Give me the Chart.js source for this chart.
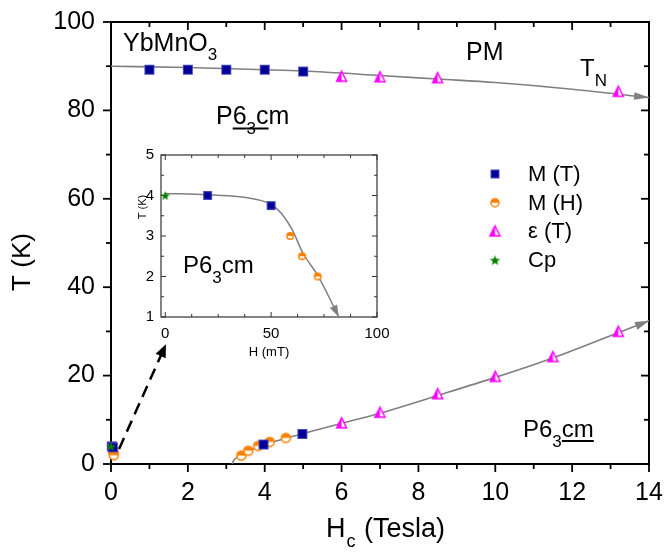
<!DOCTYPE html>
<html>
<head>
<meta charset="utf-8">
<script src="https://cdn.jsdelivr.net/npm/chart.js@4.4.0/dist/chart.umd.min.js"></script>
<style>
html, body { margin: 0; padding: 0; background: #fff; }
#wrap { position: relative; width: 665px; height: 555px; }
#main { position: absolute; left: 0; top: 0; }
#inset { position: absolute; left: 120px; top: 140px; }
</style>
</head>
<body>
<div id="wrap">
  <canvas id="main" width="665" height="555"></canvas>
  <canvas id="inset" width="270" height="230"></canvas>
</div>
<script>
// ---- main panel: T (K) vs Hc (Tesla) ----
var mT_x = [1, 2, 3, 4, 5, 0.02, 0.05, 3.97, 4.98];
var mT_y = [89.2, 89.2, 89.2, 89.2, 88.8, 4.0, 3.75, 4.4, 6.8];
var mH_x = [0.059, 0.065, 0.072, 3.39, 3.57, 3.83, 4.13, 4.55];
var mH_y = [3.0, 2.5, 2.0, 1.9, 3.0, 4.1, 5.0, 5.9];
var eps_x = [6, 7, 8.5, 13.2, 6, 7, 8.5, 10, 11.5, 13.2];
var eps_y = [87.6, 87.5, 87.3, 84.2, 9.2, 11.6, 15.8, 19.7, 24.2, 29.9];
var cp_x = [0];
var cp_y = [4.0];
// guide lines (TN line and low-T boundary)
var tn_x = [0, 2, 4, 5, 7, 8.5, 10, 12, 14];
var tn_y = [90, 89.7, 89.2, 88.9, 87.9, 87.1, 86.3, 84.8, 82.9];
var low_x = [3.15, 3.2, 3.3, 3.45, 3.7, 4.0, 4.5, 5, 6, 7, 8.5, 10, 11.5, 13, 14];
var low_y = [0, 0.9, 1.6, 2.4, 3.4, 4.4, 5.7, 6.9, 9.2, 11.5, 15.5, 19.6, 24.0, 29.0, 32.4];
var xTicks = [0, 2, 4, 6, 8, 10, 12, 14];
var yTicks = [0, 20, 40, 60, 80, 100];
var legendNames = ['M (T)', 'M (H)', '\u03b5 (T)', 'Cp'];

// ---- inset: T (K) vs H (mT) ----
var in_mT_x = [20, 50];
var in_mT_y = [4.0, 3.75];
var in_mH_x = [59, 64.6, 72];
var in_mH_y = [3.0, 2.5, 2.0];
var in_cp_x = [0];
var in_cp_y = [4.0];
var in_fit_x = [0, 20, 35, 45, 50, 55, 60, 65, 72, 82];
var in_fit_y = [4.05, 4.02, 3.97, 3.88, 3.78, 3.55, 3.15, 2.58, 2.03, 1.0];
var inXTicks = [0, 50, 100];
var inYTicks = [1, 2, 3, 4, 5];

var FONT = '"Liberation Sans", Arial, sans-serif';
var NAVY = '#000099', ORANGE = '#ff8000', MAGENTA = '#ff00ff', GREEN = '#008000', GREY = '#808080';

function pts(xs, ys) {
  return xs.map(function (x, i) { return { x: x, y: ys[i] }; });
}

function makeMarker(kind, size) {
  var pad = 2;
  var c = document.createElement('canvas');
  c.width = c.height = Math.ceil(size + 2 * pad);
  var g = c.getContext('2d');
  var m = c.width / 2, r = size / 2;
  if (kind === 'square') {
    g.fillStyle = NAVY;
    g.fillRect(m - r, m - r, size, size);
    g.strokeStyle = '#4a4ab8';
    g.lineWidth = 1;
    g.strokeRect(m - r + 0.5, m - r + 0.5, size - 1, size - 1);
  } else if (kind === 'half') {
    r -= 0.75;
    g.fillStyle = '#fff';
    g.beginPath(); g.arc(m, m, r, 0, Math.PI * 2); g.fill();
    g.fillStyle = ORANGE;
    g.beginPath(); g.arc(m, m, r, Math.PI, 0); g.closePath(); g.fill();
    g.strokeStyle = ORANGE; g.lineWidth = 1.5;
    g.beginPath(); g.arc(m, m, r, 0, Math.PI * 2); g.stroke();
  } else if (kind === 'tri') {
    var top = m - r, bot = m + r * 0.8, hw = r - 0.5;
    g.fillStyle = '#fff';
    g.beginPath(); g.moveTo(m, top); g.lineTo(m + hw, bot); g.lineTo(m - hw, bot); g.closePath(); g.fill();
    g.fillStyle = MAGENTA;
    g.beginPath(); g.moveTo(m, top); g.lineTo(m, bot); g.lineTo(m - hw, bot); g.closePath(); g.fill();
    g.strokeStyle = MAGENTA; g.lineWidth = 1.5; g.lineJoin = 'miter';
    g.beginPath(); g.moveTo(m, top); g.lineTo(m + hw, bot); g.lineTo(m - hw, bot); g.closePath(); g.stroke();
  } else if (kind === 'star') {
    g.fillStyle = GREEN;
    g.beginPath();
    for (var i = 0; i < 10; i++) {
      var rr = i % 2 === 0 ? r : r * 0.42;
      var a = -Math.PI / 2 + i * Math.PI / 5;
      var px = m + rr * Math.cos(a), py = m + 0.5 + rr * Math.sin(a);
      if (i === 0) g.moveTo(px, py); else g.lineTo(px, py);
    }
    g.closePath(); g.fill();
  }
  return c;
}

var mk = {
  sq: makeMarker('square', 10), half: makeMarker('half', 10.5),
  tri: makeMarker('tri', 11), star: makeMarker('star', 10)
};
var mkLeg = [makeMarker('square', 9), makeMarker('half', 9.5), makeMarker('tri', 11), makeMarker('star', 11)];
var mkIn = {
  sq: makeMarker('square', 8.5), half: makeMarker('half', 8), star: makeMarker('star', 10)
};

// text with sub-scripts and underlines
function drawRich(ctx, x, y, parts) {
  ctx.save();
  ctx.fillStyle = '#000';
  ctx.textBaseline = 'alphabetic';
  ctx.textAlign = 'left';
  parts.forEach(function (p) {
    ctx.font = p.size + 'px ' + FONT;
    var w = ctx.measureText(p.t).width;
    ctx.fillText(p.t, x, y + (p.dy || 0));
    if (p.u !== undefined) ctx.fillRect(x, y + p.u, w, 2);
    x += w + (p.gap || 0);
  });
  ctx.restore();
}

function vText(ctx, text, cx, cy, size) {
  ctx.save();
  ctx.translate(cx, cy);
  ctx.rotate(-Math.PI / 2);
  ctx.font = size + 'px ' + FONT;
  ctx.fillStyle = '#000';
  ctx.textAlign = 'center';
  ctx.textBaseline = 'middle';
  ctx.fillText(text, 0, 0);
  ctx.restore();
}

function arrowHead(ctx, tx, ty, fx, fy, len, hw, color) {
  var dx = tx - fx, dy = ty - fy, d = Math.sqrt(dx * dx + dy * dy) || 1;
  dx /= d; dy /= d;
  var bx = tx - dx * len, by = ty - dy * len;
  ctx.fillStyle = color;
  ctx.beginPath();
  ctx.moveTo(tx, ty);
  ctx.lineTo(bx - dy * hw, by + dx * hw);
  ctx.lineTo(bx + dy * hw, by - dx * hw);
  ctx.closePath();
  ctx.fill();
}

// frame + tick marks (inward / outward per side)
var framePlugin = {
  id: 'frame',
  beforeDatasetsDraw: function (chart, args, o) {
    var ctx = chart.ctx, a = chart.chartArea, xs = chart.scales.x, ys = chart.scales.y;
    ctx.save();
    ctx.strokeStyle = o.color;
    ctx.lineWidth = o.width;
    ctx.strokeRect(a.left, a.top, a.right - a.left, a.bottom - a.top);
    ctx.lineWidth = o.tickWidth;
    function seg(x1, y1, x2, y2) { ctx.beginPath(); ctx.moveTo(x1, y1); ctx.lineTo(x2, y2); ctx.stroke(); }
    function xt(v, len) {
      var p = xs.getPixelForValue(v);
      seg(p, a.bottom, p, a.bottom + (o.bottomOut ? len : -len));
      seg(p, a.top, p, a.top + len);
    }
    function yt(v, len) {
      var p = ys.getPixelForValue(v);
      seg(a.left, p, a.left + (o.leftOut ? -len : len), p);
      seg(a.right, p, a.right - len, p);
    }
    var k, v, isMaj;
    for (k = Math.ceil(xs.min / o.xMinor - 1e-9); k * o.xMinor <= xs.max + 1e-9; k++) {
      v = k * o.xMinor;
      isMaj = Math.abs(v / o.xMajor - Math.round(v / o.xMajor)) < 1e-6;
      xt(v, isMaj ? o.major : o.minor);
    }
    for (k = Math.ceil(ys.min / o.yMinor - 1e-9); k * o.yMinor <= ys.max + 1e-9; k++) {
      v = k * o.yMinor;
      isMaj = Math.abs(v / o.yMajor - Math.round(v / o.yMajor)) < 1e-6;
      yt(v, isMaj ? o.major : o.minor);
    }
    ctx.restore();
  }
};

// arrowheads at the ends of guide lines
var arrowPlugin = {
  id: 'arrows',
  afterDatasetsDraw: function (chart) {
    var ctx = chart.ctx;
    ctx.save();
    chart.data.datasets.forEach(function (ds, i) {
      if (!ds.arrow) return;
      var els = chart.getDatasetMeta(i).data, n = els.length;
      var last = els[n - 1], prev = els[n - 2];
      var fx = last.cp1x, fy = last.cp1y;
      if (fx === undefined || (Math.abs(fx - last.x) < 0.5 && Math.abs(fy - last.y) < 0.5)) { fx = prev.x; fy = prev.y; }
      arrowHead(ctx, last.x, last.y, fx, fy, ds.arrow[0], ds.arrow[1], GREY);
    });
    ctx.restore();
  }
};

var mainDecor = {
  id: 'mainDecor',
  afterDraw: function (chart) {
    var ctx = chart.ctx, xs = chart.scales.x, ys = chart.scales.y;
    // labels inside the plot
    drawRich(ctx, 123, 50.5, [{ t: 'YbMnO', size: 25 }, { t: '3', size: 17, dy: 9.5 }]);
    drawRich(ctx, 466, 60, [{ t: 'PM', size: 25 }]);
    drawRich(ctx, 580, 76, [{ t: 'T', size: 24 }, { t: 'N', size: 17, dy: 10 }]);
    drawRich(ctx, 216, 124, [{ t: 'P', size: 25 }, { t: '6', size: 25, u: 3.5 },
      { t: '3', size: 17, dy: 10, u: 3.5 }, { t: 'c', size: 25, u: 3.5 }, { t: 'm', size: 25 }]);
    drawRich(ctx, 523, 437, [{ t: 'P6', size: 24 }, { t: '3', size: 17, dy: 10 }, { t: 'cm', size: 24, u: 3 }]);
    // axis titles
    drawRich(ctx, 326, 537, [{ t: 'H', size: 27, gap: 1 }, { t: 'c', size: 18, dy: 10, gap: 1 }, { t: ' (Tesla)', size: 27 }]);
    vText(ctx, 'T (K)', 23, 262, 26);
    // legend
    ctx.save();
    ctx.font = '22px ' + FONT;
    ctx.fillStyle = '#000';
    ctx.textBaseline = 'middle';
    legendNames.forEach(function (name, i) {
      var y = 174 + i * 28.7;
      var m = mkLeg[i];
      ctx.drawImage(m, 495 - m.width / 2, y - m.height / 2);
      ctx.fillText(name, 528, y + 1);
    });
    ctx.restore();
    // dashed pointer to the inset
    var x0 = xs.getPixelForValue(0.21), y0 = ys.getPixelForValue(3.4);
    var x1 = xs.getPixelForValue(1.43), y1 = ys.getPixelForValue(27.1);
    var d = Math.hypot(x1 - x0, y1 - y0);
    var ex = x1 - (x1 - x0) / d * 11, ey = y1 - (y1 - y0) / d * 11;
    ctx.save();
    ctx.strokeStyle = '#000';
    ctx.lineWidth = 2.5;
    ctx.setLineDash([12, 7]);
    ctx.beginPath(); ctx.moveTo(x0, y0); ctx.lineTo(ex, ey); ctx.stroke();
    ctx.setLineDash([]);
    arrowHead(ctx, x1, y1, x0, y0, 13, 5.5, '#000');
    ctx.restore();
  }
};

var insetDecor = {
  id: 'insetDecor',
  afterDraw: function (chart) {
    drawRich(chart.ctx, 63, 133, [{ t: 'P6', size: 24 }, { t: '3', size: 17, dy: 10 }, { t: 'cm', size: 24 }]);
    vText(chart.ctx, 'T (K)', 23, 67, 11);
  }
};

var tickFont = { family: FONT, size: 25 };

new Chart(document.getElementById('main').getContext('2d'), {
  type: 'scatter',
  data: {
    datasets: [
      { label: 'M (T)', data: pts(mT_x, mT_y), pointStyle: mk.sq, pointRadius: 5, clip: false },
      { label: 'M (H)', data: pts(mH_x, mH_y), pointStyle: mk.half, pointRadius: 5, clip: false },
      { label: '\u03b5 (T)', data: pts(eps_x, eps_y), pointStyle: mk.tri, pointRadius: 5, clip: false },
      { label: 'Cp', data: pts(cp_x, cp_y), pointStyle: mk.star, pointRadius: 5, clip: false, order: -1 },
      { label: 'TN', data: pts(tn_x, tn_y), showLine: true, pointRadius: 0, borderColor: GREY,
        borderWidth: 1.6, cubicInterpolationMode: 'monotone', order: 2, arrow: [15, 3.8] },
      { label: 'low', data: pts(low_x, low_y), showLine: true, pointRadius: 0, borderColor: GREY,
        borderWidth: 1.6, cubicInterpolationMode: 'monotone', order: 2, arrow: [14, 4.2] }
    ]
  },
  options: {
    responsive: false,
    animation: false,
    events: [],
    layout: { padding: 0, autoPadding: false },
    plugins: {
      legend: { display: false },
      tooltip: { enabled: false },
      frame: { color: '#000', width: 2, tickWidth: 1.8, major: 8, minor: 5,
        xMajor: 2, xMinor: 1, yMajor: 20, yMinor: 10, bottomOut: true, leftOut: true }
    },
    scales: {
      x: {
        type: 'linear', min: 0, max: 14,
        afterBuildTicks: function (s) { s.ticks = xTicks.map(function (v) { return { value: v }; }); },
        afterFit: function (s) { s.height = 91; s.paddingRight = 16; },
        grid: { display: false, drawTicks: false },
        border: { display: false },
        ticks: { font: tickFont, color: '#000', padding: 14, maxRotation: 0, autoSkip: false }
      },
      y: {
        type: 'linear', min: 0, max: 100,
        afterBuildTicks: function (s) { s.ticks = yTicks.map(function (v) { return { value: v }; }); },
        afterFit: function (s) { s.width = 111; s.paddingTop = 22; },
        grid: { display: false, drawTicks: false },
        border: { display: false },
        ticks: { font: tickFont, color: '#000', padding: 16, autoSkip: false }
      }
    }
  },
  plugins: [framePlugin, arrowPlugin, mainDecor]
});

new Chart(document.getElementById('inset').getContext('2d'), {
  type: 'scatter',
  data: {
    datasets: [
      { label: 'M (T)', data: pts(in_mT_x, in_mT_y), pointStyle: mkIn.sq, pointRadius: 5, clip: false },
      { label: 'M (H)', data: pts(in_mH_x, in_mH_y), pointStyle: mkIn.half, pointRadius: 5, clip: false },
      { label: 'Cp', data: pts(in_cp_x, in_cp_y), pointStyle: mkIn.star, pointRadius: 5, clip: false },
      { label: 'fit', data: pts(in_fit_x, in_fit_y), showLine: true, pointRadius: 0, borderColor: GREY,
        borderWidth: 1.5, cubicInterpolationMode: 'monotone', order: 2, arrow: [12, 4] }
    ]
  },
  options: {
    responsive: false,
    animation: false,
    events: [],
    layout: { padding: 0, autoPadding: false },
    plugins: {
      legend: { display: false },
      tooltip: { enabled: false },
      frame: { color: '#333', width: 1.2, tickWidth: 1, major: 5, minor: 3,
        xMajor: 50, xMinor: 12.5, yMajor: 1, yMinor: 0.5, bottomOut: false, leftOut: false }
    },
    scales: {
      x: {
        type: 'linear', min: -2, max: 100,
        afterBuildTicks: function (s) { s.ticks = inXTicks.map(function (v) { return { value: v }; }); },
        afterFit: function (s) { s.height = 53; s.paddingRight = 13; },
        grid: { display: false, drawTicks: false },
        border: { display: false },
        ticks: { font: { family: FONT, size: 15 }, color: '#000', padding: 8, maxRotation: 0, autoSkip: false },
        title: { display: true, text: 'H (mT)', color: '#000', font: { family: FONT, size: 13 }, padding: { top: 0, bottom: 10 } }
      },
      y: {
        type: 'linear', min: 1, max: 5,
        afterBuildTicks: function (s) { s.ticks = inYTicks.map(function (v) { return { value: v }; }); },
        afterFit: function (s) { s.width = 41; s.paddingTop = 15; },
        grid: { display: false, drawTicks: false },
        border: { display: false },
        ticks: { font: { family: FONT, size: 15 }, color: '#000', padding: 7, autoSkip: false }
      }
    }
  },
  plugins: [framePlugin, arrowPlugin, insetDecor]
});
</script>
</body>
</html>
